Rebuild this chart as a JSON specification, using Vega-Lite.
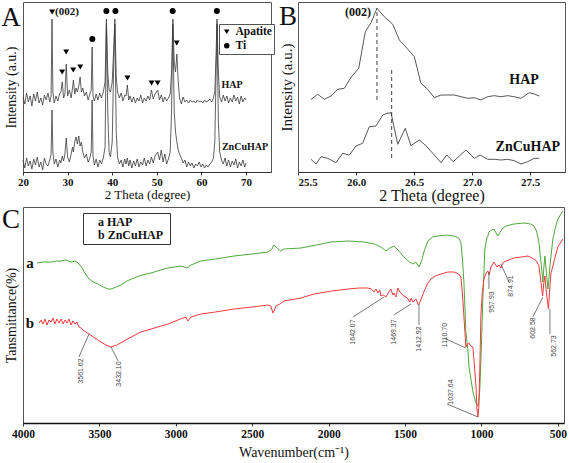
{
"$schema":"https://vega.github.io/schema/vega-lite/v6.json",
"background":"white",
"padding":{"left":0,"top":1,"right":0,"bottom":0},
"spacing":1,
"config":{"font":"Liberation Serif","view":{"stroke":"#555","strokeWidth":1},
"axis":{"grid":false,"labelFont":"Liberation Serif","titleFont":"Liberation Serif","labelFontWeight":"bold","titleFontWeight":"normal","labelColor":"#111","titleColor":"#111","tickColor":"#333","domainColor":"#333"},
"legend":{"labelFont":"Liberation Serif"}},
"datasets":{
"xrdA":[
{"x":20.0,"h":75,"z":12},{"x":20.4,"h":68,"z":4},{"x":20.8,"h":79,"z":14},{"x":21.2,"h":70,"z":6},{"x":21.6,"h":76,"z":11},{"x":22.0,"h":66,"z":3},{"x":22.4,"h":78,"z":13},{"x":22.8,"h":71,"z":7},{"x":23.2,"h":80,"z":15},{"x":23.6,"h":69,"z":5},{"x":24.0,"h":74,"z":10},{"x":24.4,"h":67,"z":2},{"x":24.8,"h":77,"z":14},{"x":25.2,"h":72,"z":8},{"x":25.6,"h":79,"z":6},{"x":26.0,"h":70,"z":12},{"x":26.3,"h":76,"z":18},{"x":26.5,"h":153,"z":62},{"x":26.7,"h":80,"z":20},{"x":27.0,"h":69,"z":8},{"x":27.4,"h":76,"z":13},{"x":27.8,"h":71,"z":5},{"x":28.2,"h":78,"z":12},{"x":28.5,"h":80,"z":9},{"x":28.8,"h":90,"z":16},{"x":29.1,"h":74,"z":11},{"x":29.4,"h":78,"z":18},{"x":29.7,"h":108,"z":34},{"x":30.0,"h":76,"z":15},{"x":30.4,"h":82,"z":10},{"x":30.8,"h":74,"z":18},{"x":31.1,"h":84,"z":25},{"x":31.3,"h":92,"z":20},{"x":31.6,"h":78,"z":30},{"x":31.9,"h":84,"z":35},{"x":32.2,"h":80,"z":28},{"x":32.5,"h":86,"z":36},{"x":32.8,"h":95,"z":26},{"x":33.1,"h":80,"z":30},{"x":33.4,"h":84,"z":20},{"x":33.8,"h":76,"z":14},{"x":34.2,"h":80,"z":18},{"x":34.6,"h":72,"z":10},{"x":35.0,"h":78,"z":14},{"x":35.3,"h":82,"z":20},{"x":35.5,"h":125,"z":72},{"x":35.7,"h":76,"z":16},{"x":36.0,"h":71,"z":7},{"x":36.4,"h":78,"z":13},{"x":36.8,"h":72,"z":5},{"x":37.2,"h":79,"z":12},{"x":37.6,"h":74,"z":8},{"x":38.0,"h":80,"z":14},{"x":38.4,"h":90,"z":25},{"x":38.7,"h":153,"z":148},{"x":39.0,"h":100,"z":60},{"x":39.3,"h":82,"z":20},{"x":39.6,"h":80,"z":15},{"x":40.0,"h":90,"z":30},{"x":40.3,"h":120,"z":100},{"x":40.6,"h":153,"z":148},{"x":40.9,"h":95,"z":40},{"x":41.2,"h":80,"z":15},{"x":41.6,"h":74,"z":8},{"x":42.0,"h":79,"z":12},{"x":42.4,"h":71,"z":5},{"x":42.8,"h":77,"z":13},{"x":43.1,"h":76,"z":8},{"x":43.4,"h":87,"z":14},{"x":43.7,"h":72,"z":6},{"x":44.0,"h":76,"z":12},{"x":44.4,"h":70,"z":4},{"x":44.8,"h":75,"z":11},{"x":45.2,"h":69,"z":6},{"x":45.6,"h":74,"z":13},{"x":46.0,"h":71,"z":5},{"x":46.4,"h":77,"z":10},{"x":46.8,"h":69,"z":7},{"x":47.2,"h":74,"z":14},{"x":47.6,"h":71,"z":6},{"x":48.0,"h":76,"z":12},{"x":48.4,"h":72,"z":8},{"x":48.8,"h":82,"z":15},{"x":49.2,"h":73,"z":9},{"x":49.6,"h":78,"z":16},{"x":50.2,"h":82,"z":20},{"x":50.6,"h":72,"z":12},{"x":51.0,"h":77,"z":22},{"x":51.4,"h":70,"z":10},{"x":51.8,"h":75,"z":18},{"x":52.2,"h":71,"z":8},{"x":52.6,"h":74,"z":13},{"x":53.0,"h":78,"z":20},{"x":53.3,"h":100,"z":60},{"x":53.6,"h":153,"z":148},{"x":53.9,"h":110,"z":60},{"x":54.2,"h":100,"z":40},{"x":54.5,"h":118,"z":30},{"x":54.8,"h":90,"z":22},{"x":55.1,"h":74,"z":18},{"x":55.5,"h":68,"z":14},{"x":55.9,"h":75,"z":9},{"x":56.3,"h":70,"z":12},{"x":56.7,"h":72,"z":5},{"x":57.1,"h":69,"z":10},{"x":57.5,"h":72,"z":6},{"x":57.9,"h":70,"z":9},{"x":58.3,"h":71,"z":4},{"x":58.7,"h":69,"z":8},{"x":59.1,"h":72,"z":6},{"x":59.5,"h":70,"z":10},{"x":59.9,"h":71,"z":5},{"x":60.3,"h":69,"z":8},{"x":60.7,"h":72,"z":4},{"x":61.1,"h":70,"z":7},{"x":61.5,"h":71,"z":5},{"x":61.9,"h":73,"z":8},{"x":62.3,"h":70,"z":10},{"x":62.7,"h":74,"z":14},{"x":63.0,"h":80,"z":30},{"x":63.3,"h":120,"z":100},{"x":63.5,"h":153,"z":148},{"x":63.8,"h":100,"z":50},{"x":64.1,"h":75,"z":20},{"x":64.5,"h":70,"z":12},{"x":64.9,"h":77,"z":8},{"x":65.3,"h":71,"z":14},{"x":65.7,"h":76,"z":6},{"x":66.1,"h":69,"z":12},{"x":66.5,"h":74,"z":5},{"x":66.9,"h":70,"z":11},{"x":67.3,"h":77,"z":7},{"x":67.7,"h":71,"z":13},{"x":68.1,"h":75,"z":4},{"x":68.5,"h":68,"z":10},{"x":68.9,"h":76,"z":6},{"x":69.3,"h":70,"z":12},{"x":69.7,"h":74,"z":5},{"x":70.0,"h":72,"z":9}
],
"markA":[
{"x":26.53,"y":160,"type":"Apatite"},{"x":28.78,"y":100,"type":"Apatite"},{"x":29.68,"y":120,"type":"Apatite"},{"x":31.26,"y":102,"type":"Apatite"},{"x":32.84,"y":105,"type":"Apatite"},{"x":43.42,"y":94,"type":"Apatite"},{"x":48.83,"y":89,"type":"Apatite"},{"x":50.18,"y":89,"type":"Apatite"},{"x":54.46,"y":129,"type":"Apatite"},
{"x":35.54,"y":133,"type":"Ti"},{"x":38.69,"y":161,"type":"Ti"},{"x":40.72,"y":161,"type":"Ti"},{"x":53.56,"y":161,"type":"Ti"},{"x":63.47,"y":161,"type":"Ti"}
],
"xrdB":[
{"s":"HAP","x":25.612,"y":72.7},{"s":"HAP","x":25.670,"y":77.7},{"s":"HAP","x":25.727,"y":72.7},{"s":"HAP","x":25.784,"y":76},{"s":"HAP","x":25.842,"y":82.7},{"s":"HAP","x":25.899,"y":83.7},{"s":"HAP","x":25.957,"y":94.7},{"s":"HAP","x":26.023,"y":103.7},{"s":"HAP","x":26.080,"y":140.3},{"s":"HAP","x":26.129,"y":149.3},{"s":"HAP","x":26.180,"y":163.7},{"s":"HAP","x":26.243,"y":155.3},{"s":"HAP","x":26.316,"y":147.7},{"s":"HAP","x":26.373,"y":132},{"s":"HAP","x":26.439,"y":123.7},{"s":"HAP","x":26.502,"y":115.3},{"s":"HAP","x":26.559,"y":88.7},{"s":"HAP","x":26.617,"y":82.7},{"s":"HAP","x":26.674,"y":74.3},{"s":"HAP","x":26.732,"y":77},{"s":"HAP","x":26.789,"y":77},{"s":"HAP","x":26.846,"y":77},{"s":"HAP","x":26.904,"y":75.3},{"s":"HAP","x":26.962,"y":73.7},{"s":"HAP","x":27.019,"y":74.3},{"s":"HAP","x":27.076,"y":72},{"s":"HAP","x":27.134,"y":75.3},{"s":"HAP","x":27.191,"y":76.3},{"s":"HAP","x":27.248,"y":75.3},{"s":"HAP","x":27.306,"y":76.3},{"s":"HAP","x":27.363,"y":75.3},{"s":"HAP","x":27.421,"y":73.7},{"s":"HAP","x":27.492,"y":79.3},{"s":"HAP","x":27.535,"y":78},{"s":"HAP","x":27.578,"y":76},
{"s":"Zn","x":25.612,"y":12.7},{"s":"Zn","x":25.655,"y":8},{"s":"Zn","x":25.698,"y":15.3},{"s":"Zn","x":25.756,"y":13.7},{"s":"Zn","x":25.827,"y":9.3},{"s":"Zn","x":25.885,"y":18.7},{"s":"Zn","x":25.942,"y":17},{"s":"Zn","x":26.0,"y":26},{"s":"Zn","x":26.057,"y":28.7},{"s":"Zn","x":26.114,"y":45.3},{"s":"Zn","x":26.172,"y":46},{"s":"Zn","x":26.230,"y":57},{"s":"Zn","x":26.267,"y":58.7},{"s":"Zn","x":26.301,"y":59.3},{"s":"Zn","x":26.359,"y":27.7},{"s":"Zn","x":26.424,"y":43.7},{"s":"Zn","x":26.473,"y":26.3},{"s":"Zn","x":26.545,"y":32},{"s":"Zn","x":26.602,"y":26.3},{"s":"Zn","x":26.674,"y":17},{"s":"Zn","x":26.732,"y":9.3},{"s":"Zn","x":26.781,"y":17},{"s":"Zn","x":26.838,"y":10.3},{"s":"Zn","x":26.889,"y":16},{"s":"Zn","x":26.947,"y":22},{"s":"Zn","x":27.019,"y":13.7},{"s":"Zn","x":27.068,"y":17},{"s":"Zn","x":27.134,"y":12.7},{"s":"Zn","x":27.191,"y":12.7},{"s":"Zn","x":27.248,"y":12},{"s":"Zn","x":27.306,"y":12.7},{"s":"Zn","x":27.363,"y":11.3},{"s":"Zn","x":27.421,"y":8},{"s":"Zn","x":27.478,"y":10.3},{"s":"Zn","x":27.535,"y":13.7},{"s":"Zn","x":27.578,"y":13.7}
],
"ftir":[
{"s":"HAP","x":3908,"y":160},{"s":"HAP","x":3860,"y":161},{"s":"HAP","x":3817,"y":161},{"s":"HAP","x":3780,"y":162},{"s":"HAP","x":3751,"y":162},{"s":"HAP","x":3720,"y":163},{"s":"HAP","x":3686,"y":161},{"s":"HAP","x":3660,"y":162},{"s":"HAP","x":3640,"y":160},{"s":"HAP","x":3621,"y":157},{"s":"HAP","x":3595,"y":150},{"s":"HAP","x":3568,"y":144},{"s":"HAP","x":3540,"y":141},{"s":"HAP","x":3509,"y":139},{"s":"HAP","x":3475,"y":136},{"s":"HAP","x":3444,"y":134},{"s":"HAP","x":3424,"y":134},{"s":"HAP","x":3390,"y":136},{"s":"HAP","x":3359,"y":138},{"s":"HAP","x":3320,"y":142},{"s":"HAP","x":3274,"y":145},{"s":"HAP","x":3220,"y":148},{"s":"HAP","x":3163,"y":150},{"s":"HAP","x":3100,"y":153},{"s":"HAP","x":3051,"y":155},{"s":"HAP","x":2966,"y":157},{"s":"HAP","x":2927,"y":155},{"s":"HAP","x":2901,"y":158},{"s":"HAP","x":2836,"y":162},{"s":"HAP","x":2740,"y":164},{"s":"HAP","x":2620,"y":167},{"s":"HAP","x":2500,"y":169},{"s":"HAP","x":2397,"y":171},{"s":"HAP","x":2371,"y":174},{"s":"HAP","x":2358,"y":178},{"s":"HAP","x":2345,"y":176},{"s":"HAP","x":2338,"y":175},{"s":"HAP","x":2315,"y":172},{"s":"HAP","x":2293,"y":174},{"s":"HAP","x":2181,"y":175},{"s":"HAP","x":2080,"y":178},{"s":"HAP","x":1985,"y":181},{"s":"HAP","x":1870,"y":182},{"s":"HAP","x":1769,"y":181},{"s":"HAP","x":1700,"y":179},{"s":"HAP","x":1658,"y":176},{"s":"HAP","x":1625,"y":172},{"s":"HAP","x":1600,"y":175},{"s":"HAP","x":1573,"y":177},{"s":"HAP","x":1540,"y":172},{"s":"HAP","x":1508,"y":166},{"s":"HAP","x":1470,"y":161},{"s":"HAP","x":1449,"y":159},{"s":"HAP","x":1429,"y":161},{"s":"HAP","x":1409,"y":156},{"s":"HAP","x":1390,"y":163},{"s":"HAP","x":1377,"y":171},{"s":"HAP","x":1351,"y":182},{"s":"HAP","x":1320,"y":186},{"s":"HAP","x":1285,"y":187},{"s":"HAP","x":1230,"y":188},{"s":"HAP","x":1180,"y":187},{"s":"HAP","x":1150,"y":185},{"s":"HAP","x":1135,"y":181},{"s":"HAP","x":1125,"y":165},{"s":"HAP","x":1115,"y":141},{"s":"HAP","x":1102,"y":91},{"s":"HAP","x":1090,"y":75},{"s":"HAP","x":1082,"y":57},{"s":"HAP","x":1070,"y":45},{"s":"HAP","x":1056,"y":31},{"s":"HAP","x":1040,"y":22},{"s":"HAP","x":1030,"y":18},{"s":"HAP","x":1023,"y":17},{"s":"HAP","x":1015,"y":25},{"s":"HAP","x":1010,"y":37},{"s":"HAP","x":1000,"y":80},{"s":"HAP","x":991,"y":124},{"s":"HAP","x":978,"y":174},{"s":"HAP","x":965,"y":185},{"s":"HAP","x":958,"y":187},{"s":"HAP","x":951,"y":191},{"s":"HAP","x":935,"y":193},{"s":"HAP","x":919,"y":194},{"s":"HAP","x":893,"y":187},{"s":"HAP","x":873,"y":192},{"s":"HAP","x":860,"y":195},{"s":"HAP","x":840,"y":197},{"s":"HAP","x":788,"y":199},{"s":"HAP","x":722,"y":200},{"s":"HAP","x":680,"y":199},{"s":"HAP","x":657,"y":197},{"s":"HAP","x":640,"y":192},{"s":"HAP","x":624,"y":181},{"s":"HAP","x":610,"y":160},{"s":"HAP","x":598,"y":141},{"s":"HAP","x":592,"y":155},{"s":"HAP","x":585,"y":167},{"s":"HAP","x":575,"y":150},{"s":"HAP","x":565,"y":134},{"s":"HAP","x":558,"y":145},{"s":"HAP","x":552,"y":157},{"s":"HAP","x":533,"y":184},{"s":"HAP","x":515,"y":196},{"s":"HAP","x":500,"y":204},{"s":"HAP","x":480,"y":209},{"s":"HAP","x":467,"y":212},
{"s":"ZnCuHAP","x":3895,"y":100},{"s":"ZnCuHAP","x":3882,"y":103},{"s":"ZnCuHAP","x":3869,"y":99},{"s":"ZnCuHAP","x":3856,"y":104},{"s":"ZnCuHAP","x":3843,"y":98},{"s":"ZnCuHAP","x":3830,"y":103},{"s":"ZnCuHAP","x":3817,"y":101},{"s":"ZnCuHAP","x":3804,"y":105},{"s":"ZnCuHAP","x":3791,"y":99},{"s":"ZnCuHAP","x":3778,"y":104},{"s":"ZnCuHAP","x":3764,"y":100},{"s":"ZnCuHAP","x":3751,"y":104},{"s":"ZnCuHAP","x":3738,"y":99},{"s":"ZnCuHAP","x":3725,"y":103},{"s":"ZnCuHAP","x":3712,"y":100},{"s":"ZnCuHAP","x":3699,"y":104},{"s":"ZnCuHAP","x":3686,"y":98},{"s":"ZnCuHAP","x":3673,"y":102},{"s":"ZnCuHAP","x":3660,"y":99},{"s":"ZnCuHAP","x":3647,"y":101},{"s":"ZnCuHAP","x":3634,"y":96},{"s":"ZnCuHAP","x":3620,"y":95},{"s":"ZnCuHAP","x":3607,"y":93},{"s":"ZnCuHAP","x":3590,"y":91},{"s":"ZnCuHAP","x":3568,"y":89},{"s":"ZnCuHAP","x":3529,"y":85},{"s":"ZnCuHAP","x":3490,"y":81},{"s":"ZnCuHAP","x":3457,"y":78},{"s":"ZnCuHAP","x":3424,"y":76},{"s":"ZnCuHAP","x":3385,"y":78},{"s":"ZnCuHAP","x":3339,"y":82},{"s":"ZnCuHAP","x":3280,"y":87},{"s":"ZnCuHAP","x":3228,"y":91},{"s":"ZnCuHAP","x":3140,"y":95},{"s":"ZnCuHAP","x":3051,"y":99},{"s":"ZnCuHAP","x":2970,"y":104},{"s":"ZnCuHAP","x":2934,"y":106},{"s":"ZnCuHAP","x":2921,"y":102},{"s":"ZnCuHAP","x":2901,"y":106},{"s":"ZnCuHAP","x":2836,"y":109},{"s":"ZnCuHAP","x":2740,"y":111},{"s":"ZnCuHAP","x":2620,"y":114},{"s":"ZnCuHAP","x":2500,"y":116},{"s":"ZnCuHAP","x":2397,"y":118},{"s":"ZnCuHAP","x":2378,"y":117},{"s":"ZnCuHAP","x":2365,"y":110},{"s":"ZnCuHAP","x":2355,"y":113},{"s":"ZnCuHAP","x":2345,"y":117},{"s":"ZnCuHAP","x":2320,"y":119},{"s":"ZnCuHAP","x":2293,"y":122},{"s":"ZnCuHAP","x":2181,"y":125},{"s":"ZnCuHAP","x":2096,"y":129},{"s":"ZnCuHAP","x":1980,"y":132},{"s":"ZnCuHAP","x":1874,"y":134},{"s":"ZnCuHAP","x":1800,"y":135},{"s":"ZnCuHAP","x":1743,"y":135},{"s":"ZnCuHAP","x":1720,"y":134},{"s":"ZnCuHAP","x":1704,"y":131},{"s":"ZnCuHAP","x":1690,"y":134},{"s":"ZnCuHAP","x":1678,"y":130},{"s":"ZnCuHAP","x":1665,"y":133},{"s":"ZnCuHAP","x":1658,"y":127},{"s":"ZnCuHAP","x":1642,"y":128},{"s":"ZnCuHAP","x":1625,"y":126},{"s":"ZnCuHAP","x":1610,"y":130},{"s":"ZnCuHAP","x":1593,"y":134},{"s":"ZnCuHAP","x":1580,"y":128},{"s":"ZnCuHAP","x":1573,"y":130},{"s":"ZnCuHAP","x":1560,"y":126},{"s":"ZnCuHAP","x":1547,"y":135},{"s":"ZnCuHAP","x":1534,"y":131},{"s":"ZnCuHAP","x":1521,"y":129},{"s":"ZnCuHAP","x":1508,"y":127},{"s":"ZnCuHAP","x":1494,"y":126},{"s":"ZnCuHAP","x":1481,"y":124},{"s":"ZnCuHAP","x":1469,"y":121},{"s":"ZnCuHAP","x":1460,"y":125},{"s":"ZnCuHAP","x":1449,"y":121},{"s":"ZnCuHAP","x":1429,"y":124},{"s":"ZnCuHAP","x":1413,"y":118},{"s":"ZnCuHAP","x":1400,"y":122},{"s":"ZnCuHAP","x":1377,"y":131},{"s":"ZnCuHAP","x":1355,"y":139},{"s":"ZnCuHAP","x":1331,"y":144},{"s":"ZnCuHAP","x":1300,"y":147},{"s":"ZnCuHAP","x":1265,"y":149},{"s":"ZnCuHAP","x":1220,"y":151},{"s":"ZnCuHAP","x":1180,"y":151},{"s":"ZnCuHAP","x":1150,"y":149},{"s":"ZnCuHAP","x":1135,"y":146},{"s":"ZnCuHAP","x":1125,"y":130},{"s":"ZnCuHAP","x":1115,"y":107},{"s":"ZnCuHAP","x":1102,"y":76},{"s":"ZnCuHAP","x":1092,"y":79},{"s":"ZnCuHAP","x":1082,"y":80},{"s":"ZnCuHAP","x":1070,"y":77},{"s":"ZnCuHAP","x":1056,"y":76},{"s":"ZnCuHAP","x":1045,"y":55},{"s":"ZnCuHAP","x":1036,"y":37},{"s":"ZnCuHAP","x":1030,"y":15},{"s":"ZnCuHAP","x":1023,"y":6},{"s":"ZnCuHAP","x":1017,"y":17},{"s":"ZnCuHAP","x":1010,"y":60},{"s":"ZnCuHAP","x":1004,"y":107},{"s":"ZnCuHAP","x":995,"y":130},{"s":"ZnCuHAP","x":984,"y":144},{"s":"ZnCuHAP","x":970,"y":150},{"s":"ZnCuHAP","x":958,"y":152},{"s":"ZnCuHAP","x":950,"y":148},{"s":"ZnCuHAP","x":938,"y":156},{"s":"ZnCuHAP","x":919,"y":161},{"s":"ZnCuHAP","x":899,"y":156},{"s":"ZnCuHAP","x":885,"y":158},{"s":"ZnCuHAP","x":873,"y":155},{"s":"ZnCuHAP","x":860,"y":160},{"s":"ZnCuHAP","x":840,"y":162},{"s":"ZnCuHAP","x":788,"y":165},{"s":"ZnCuHAP","x":740,"y":166},{"s":"ZnCuHAP","x":696,"y":167},{"s":"ZnCuHAP","x":657,"y":164},{"s":"ZnCuHAP","x":640,"y":162},{"s":"ZnCuHAP","x":624,"y":157},{"s":"ZnCuHAP","x":610,"y":140},{"s":"ZnCuHAP","x":600,"y":127},{"s":"ZnCuHAP","x":592,"y":140},{"s":"ZnCuHAP","x":585,"y":147},{"s":"ZnCuHAP","x":575,"y":130},{"s":"ZnCuHAP","x":562,"y":114},{"s":"ZnCuHAP","x":555,"y":130},{"s":"ZnCuHAP","x":545,"y":150},{"s":"ZnCuHAP","x":533,"y":157},{"s":"ZnCuHAP","x":515,"y":168},{"s":"ZnCuHAP","x":500,"y":176},{"s":"ZnCuHAP","x":480,"y":181},{"s":"ZnCuHAP","x":467,"y":184}
],
"leaders":[
{"x":3568,"y":89,"x2":3634,"y2":66},{"x":3424,"y":76,"x2":3378,"y2":62},{"x":1638,"y":126,"x2":1841,"y2":106},{"x":1462,"y":119,"x2":1573,"y2":108},{"x":1409,"y":119,"x2":1409,"y2":98},{"x":1102,"y":75,"x2":1246,"y2":85},{"x":1023,"y":6,"x2":1226,"y2":19},{"x":951,"y":151,"x2":951,"y2":134},{"x":873,"y":159,"x2":820,"y2":141},{"x":598,"y":126,"x2":664,"y2":106},{"x":552,"y":114,"x2":552,"y2":89}
],
"peaklabels":[
{"t":"3561.62","x":3620,"y":52},{"t":"3432.10","x":3372,"y":49},{"t":"1642.07","x":1841,"y":91},{"t":"1469.37","x":1573,"y":91},{"t":"1412.92","x":1409,"y":84},{"t":"1110.70","x":1239,"y":88},{"t":"1037.64","x":1200,"y":31},{"t":"957.93","x":932,"y":121},{"t":"874.91","x":808,"y":137},{"t":"602.58","x":664,"y":95},{"t":"562.73","x":526,"y":77}
]
},
"vconcat":[
{"hconcat":[
{"width":248,"height":170,
"layer":[
{"data":{"name":"xrdA"},"transform":[{"fold":["h","z"],"as":["s","y"]}],
"mark":{"type":"line","strokeWidth":0.8,"color":"#3a3a3a"},
"encoding":{
"x":{"field":"x","type":"quantitative","scale":{"domain":[20,75.6],"nice":false,"zero":false},
"axis":{"title":"2 Theta (degree)","values":[20,30,40,50,60,70],"labelFlush":false,"labelFontSize":11,"titleFontSize":13,"tickSize":3,"labelPadding":1,"titlePadding":1}},
"y":{"field":"y","type":"quantitative","scale":{"domain":[0,170],"nice":false,"zero":false},
"axis":{"title":"Intensity (a.u.)","labels":false,"ticks":false,"domain":false,"titleFontSize":14,"titlePadding":5}},
"detail":{"field":"s","type":"nominal"}}},
{"data":{"name":"markA"},"mark":{"type":"point","filled":true,"color":"#000","opacity":1,"size":36},
"encoding":{"x":{"field":"x","type":"quantitative"},"y":{"field":"y","type":"quantitative"},
"shape":{"field":"type","type":"nominal","scale":{"domain":["Apatite","Ti"],"range":["triangle-down","circle"]},
"legend":{"orient":"none","legendX":196,"legendY":22,"title":null,"strokeColor":"#555","fillColor":"white","padding":2,"labelFontSize":11.5,"labelFontWeight":"bold","labelColor":"#111","symbolSize":30,"symbolFillColor":"#000","symbolStrokeColor":"#000","rowPadding":1,"labelOffset":3}}}},
{"data":{"values":[{"t":"(002)","x":27.2,"y":160}]},"mark":{"type":"text","align":"left","baseline":"middle","fontSize":11,"fontWeight":"bold","font":"Liberation Serif","color":"#111"},
"encoding":{"x":{"field":"x","type":"quantitative"},"y":{"field":"y","type":"quantitative"},"text":{"field":"t"}}},
{"data":{"values":[{"t":"HAP","x":66.85,"y":87},{"t":"ZnCuHAP","x":69.77,"y":25}]},"mark":{"type":"text","align":"center","baseline":"middle","fontSize":10,"fontWeight":"bold","font":"Liberation Serif","color":"#111"},
"encoding":{"x":{"field":"x","type":"quantitative"},"y":{"field":"y","type":"quantitative"},"text":{"field":"t"}}},
{"data":{"values":[{"t":"A","x":17.31,"y":154}]},"mark":{"type":"text","align":"center","baseline":"middle","fontSize":27,"font":"Liberation Serif","color":"#111"},
"encoding":{"x":{"field":"x","type":"quantitative"},"y":{"field":"y","type":"quantitative"},"text":{"field":"t"}}}
]},
{"width":267,"height":170,
"layer":[
{"data":{"name":"xrdB"},"mark":{"type":"line","strokeWidth":0.9,"color":"#444"},
"encoding":{
"x":{"field":"x","type":"quantitative","scale":{"domain":[25.5,27.8],"nice":false,"zero":false},
"axis":{"title":"2 Theta (degree)","values":[25.5,26,26.5,27,27.5],"format":".1f","labelFontSize":11,"titleFontSize":16,"tickSize":3,"labelPadding":1,"titlePadding":0}},
"y":{"field":"y","type":"quantitative","scale":{"domain":[0,170],"nice":false,"zero":false},
"axis":{"title":"Intensity (a.u.)","labels":false,"ticks":false,"domain":false,"titleFontSize":15,"titlePadding":4}},
"detail":{"field":"s","type":"nominal"}}},
{"data":{"values":[{"x":26.18,"y":72,"y2":164},{"x":26.307,"y":14,"y2":104}]},"mark":{"type":"rule","strokeDash":[4,3],"color":"#444","strokeWidth":1},
"encoding":{"x":{"field":"x","type":"quantitative"},"y":{"field":"y","type":"quantitative"},"y2":{"field":"y2"}}},
{"data":{"values":[{"t":"(002)","x":26.017,"y":160}]},"mark":{"type":"text","align":"center","baseline":"middle","fontSize":12,"fontWeight":"bold","font":"Liberation Serif","color":"#111"},
"encoding":{"x":{"field":"x","type":"quantitative"},"y":{"field":"y","type":"quantitative"},"text":{"field":"t"}}},
{"data":{"values":[{"t":"HAP","x":27.447,"y":92},{"t":"ZnCuHAP","x":27.48,"y":25}]},"mark":{"type":"text","align":"center","baseline":"middle","fontSize":14,"fontWeight":"bold","font":"Liberation Serif","color":"#111"},
"encoding":{"x":{"field":"x","type":"quantitative"},"y":{"field":"y","type":"quantitative"},"text":{"field":"t"}}},
{"data":{"values":[{"t":"B","x":25.414,"y":155}]},"mark":{"type":"text","align":"center","baseline":"middle","fontSize":27,"font":"Liberation Serif","color":"#111"},
"encoding":{"x":{"field":"x","type":"quantitative"},"y":{"field":"y","type":"quantitative"},"text":{"field":"t"}}}
]}
],"spacing":27,"bounds":"flush"},
{"width":541,"height":216,
"layer":[
{"data":{"name":"ftir"},"mark":{"type":"line","strokeWidth":1},
"encoding":{
"x":{"field":"x","type":"quantitative","scale":{"domain":[4000,460],"nice":false,"zero":false},
"axis":{"title":"Wavenumber(cm⁻¹)","values":[4000,3500,3000,2500,2000,1500,1000,500],"format":"d","labelFlush":false,"labelFontSize":11.5,"titleFontSize":14,"tickSize":3,"labelPadding":2,"titlePadding":6,"domainWidth":1.5,"domainColor":"#111"}},
"y":{"field":"y","type":"quantitative","scale":{"domain":[0,216],"nice":false,"zero":false},
"axis":{"title":"Tansmittance(%)","labels":false,"ticks":false,"domain":false,"titleFontSize":14,"titlePadding":5}},
"color":{"field":"s","type":"nominal","scale":{"domain":["HAP","ZnCuHAP"],"range":["#4fa83a","#f03c3c"]},
"legend":{"orient":"none","legendX":60,"legendY":211,"title":null,"strokeColor":"#333","fillColor":"white","padding":3,"labelFontSize":12,"labelFontWeight":"bold","labelColor":"#111","symbolSize":1,"symbolOpacity":0,"labelOffset":0,"rowPadding":1,"labelExpr":"datum.label == 'HAP' ? 'a  HAP' : 'b  ZnCuHAP'"}}}},
{"data":{"name":"leaders"},"mark":{"type":"rule","color":"#555","strokeWidth":0.8},
"encoding":{"x":{"field":"x","type":"quantitative"},"y":{"field":"y","type":"quantitative"},"x2":{"field":"x2"},"y2":{"field":"y2"}}},
{"data":{"name":"peaklabels"},"mark":{"type":"text","angle":270,"align":"center","baseline":"middle","fontSize":7,"font":"Liberation Sans","color":"#444"},
"encoding":{"x":{"field":"x","type":"quantitative"},"y":{"field":"y","type":"quantitative"},"text":{"field":"t"}}},
{"data":{"values":[{"t":"a","x":3954,"y":160},{"t":"b","x":3954,"y":100}]},"mark":{"type":"text","align":"center","baseline":"middle","fontSize":15,"fontWeight":"bold","font":"Liberation Serif","color":"#111"},
"encoding":{"x":{"field":"x","type":"quantitative"},"y":{"field":"y","type":"quantitative"},"text":{"field":"t"}}},
{"data":{"values":[{"t":"C","x":4078.5,"y":203}]},"mark":{"type":"text","align":"center","baseline":"middle","fontSize":27,"font":"Liberation Serif","color":"#111"},
"encoding":{"x":{"field":"x","type":"quantitative"},"y":{"field":"y","type":"quantitative"},"text":{"field":"t"}}}
]}
]
}
